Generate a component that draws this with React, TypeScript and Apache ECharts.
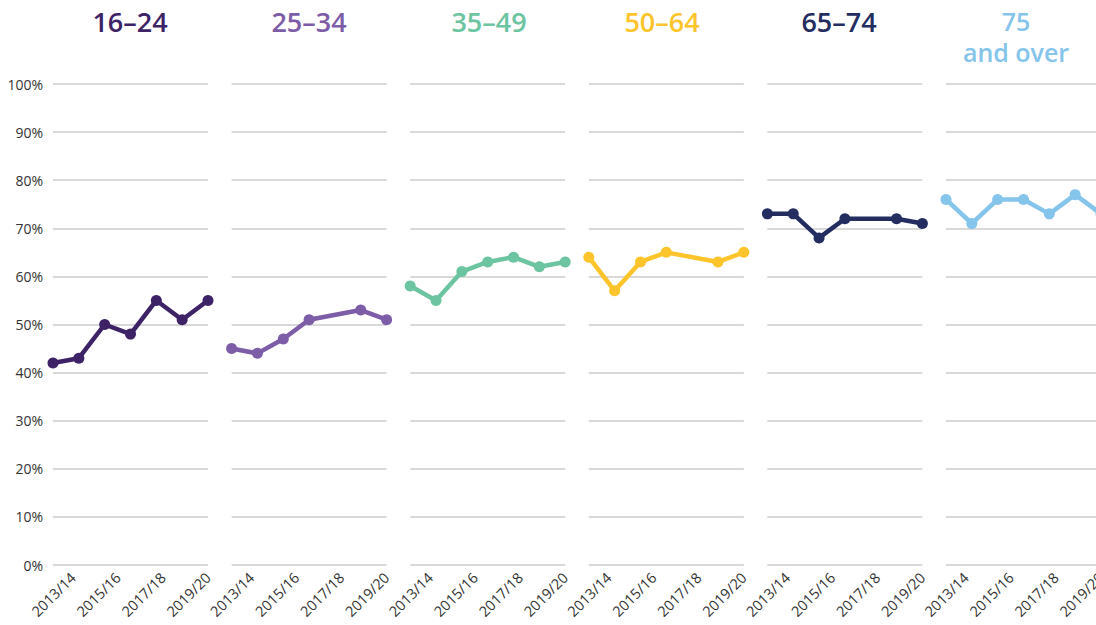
import React, { useEffect, useRef } from "react";
import * as echarts from "echarts";

const categories = ["2013/14", "2014/15", "2015/16", "2016/17", "2017/18", "2018/19", "2019/20"];
const groupNames = ["16–24", "25–34", "35–49", "50–64", "65–74", "75\nand over"];
const colors = ["#3d2366", "#7d5ca8", "#6cc4a1", "#fdc52b", "#232d5f", "#85c4eb"];
const age16to24 = [42, 43, 50, 48, 55, 51, 55];
const age25to34 = [45, 44, 47, 51, null, 53, 51];
const age35to49 = [58, 55, 61, 63, 64, 62, 63];
const age50to64 = [64, 57, 63, 65, null, 63, 65];
const age65to74 = [73, 73, 68, 72, null, 72, 71];
const age75plus = [76, 71, 76, 76, 73, 77, 73];
const seriesValues = [age16to24, age25to34, age35to49, age50to64, age65to74, age75plus];

const panelLeft = 53;
const panelStep = 178.6;
const panelWidth = 155;
const labelInset = 20;
const titleCenters = [130, 309, 489, 662, 839, 1016];

export default function App() {
  const ref = useRef<HTMLDivElement>(null);
  useEffect(() => {
    if (!ref.current) return;
    const chart = echarts.init(ref.current, null, { renderer: "svg" });
    const font = "'Open Sans', Lato, sans-serif";
    const n = seriesValues.length;
    const grids: any[] = [];
    const xAxes: any[] = [];
    const yAxes: any[] = [];
    // plot grids
    for (let i = 0; i < n; i++) {
      grids.push({
        left: panelLeft + i * panelStep,
        width: panelWidth,
        top: 84,
        height: 481,
        containLabel: false,
        outerBoundsMode: "none",
      });
      xAxes.push({
        type: "category",
        gridIndex: i,
        data: categories,
        boundaryGap: false,
        axisLine: { show: false },
        axisTick: { show: false },
        axisLabel: { show: false },
        splitLine: { show: false },
      });
      yAxes.push({
        type: "value",
        gridIndex: i,
        min: 0,
        max: 100,
        interval: 10,
        axisLine: { show: false },
        axisTick: { show: false },
        axisLabel: {
          show: i === 0,
          formatter: "{value}%",
          color: "#333",
          fontSize: 14,
          fontFamily: font,
          margin: 10,
        },
        splitLine: { lineStyle: { color: "#cccccc", width: 1.5 } },
      });
    }
    // label grids (x-axis labels only)
    for (let i = 0; i < n; i++) {
      grids.push({
        left: panelLeft + i * panelStep + labelInset,
        width: panelWidth - labelInset,
        top: 84,
        height: 481,
        containLabel: false,
        outerBoundsMode: "none",
      });
      xAxes.push({
        type: "category",
        gridIndex: n + i,
        data: categories,
        boundaryGap: false,
        axisLine: { show: false },
        axisTick: { show: false },
        axisLabel: {
          interval: 1,
          rotate: 45,
          margin: 10,
          color: "#333",
          fontSize: 14.5,
          fontFamily: font,
        },
        splitLine: { show: false },
      });
      yAxes.push({
        type: "value",
        gridIndex: n + i,
        min: 0,
        max: 100,
        show: false,
        splitLine: { show: false },
      });
    }
    const series = seriesValues.map((vals, i) => ({
      type: "line",
      xAxisIndex: i,
      yAxisIndex: i,
      data: vals,
      connectNulls: true,
      symbol: "circle",
      symbolSize: 11,
      showSymbol: true,
      lineStyle: { color: colors[i], width: 4.5 },
      itemStyle: { color: colors[i] },
    }));
    const titles = groupNames.map((name, i) => ({
      text: name,
      left: titleCenters[i],
      top: i === 5 ? 5 : 4,
      padding: 0,
      textAlign: "center",
      textStyle: {
        color: colors[i],
        fontSize: i === 5 ? 25 : 27,
        fontWeight: 600,
        fontFamily: font,
        lineHeight: i === 5 ? 31 : 34,
      },
    }));
    chart.setOption({
      animation: false,
      backgroundColor: "#ffffff",
      title: titles,
      grid: grids,
      xAxis: xAxes,
      yAxis: yAxes,
      series,
    });
    return () => chart.dispose();
  }, []);
  return (
    <div
      ref={ref}
      style={{ position: "fixed", left: 0, top: 0, width: 1110, height: 625 }}
    />
  );
}
